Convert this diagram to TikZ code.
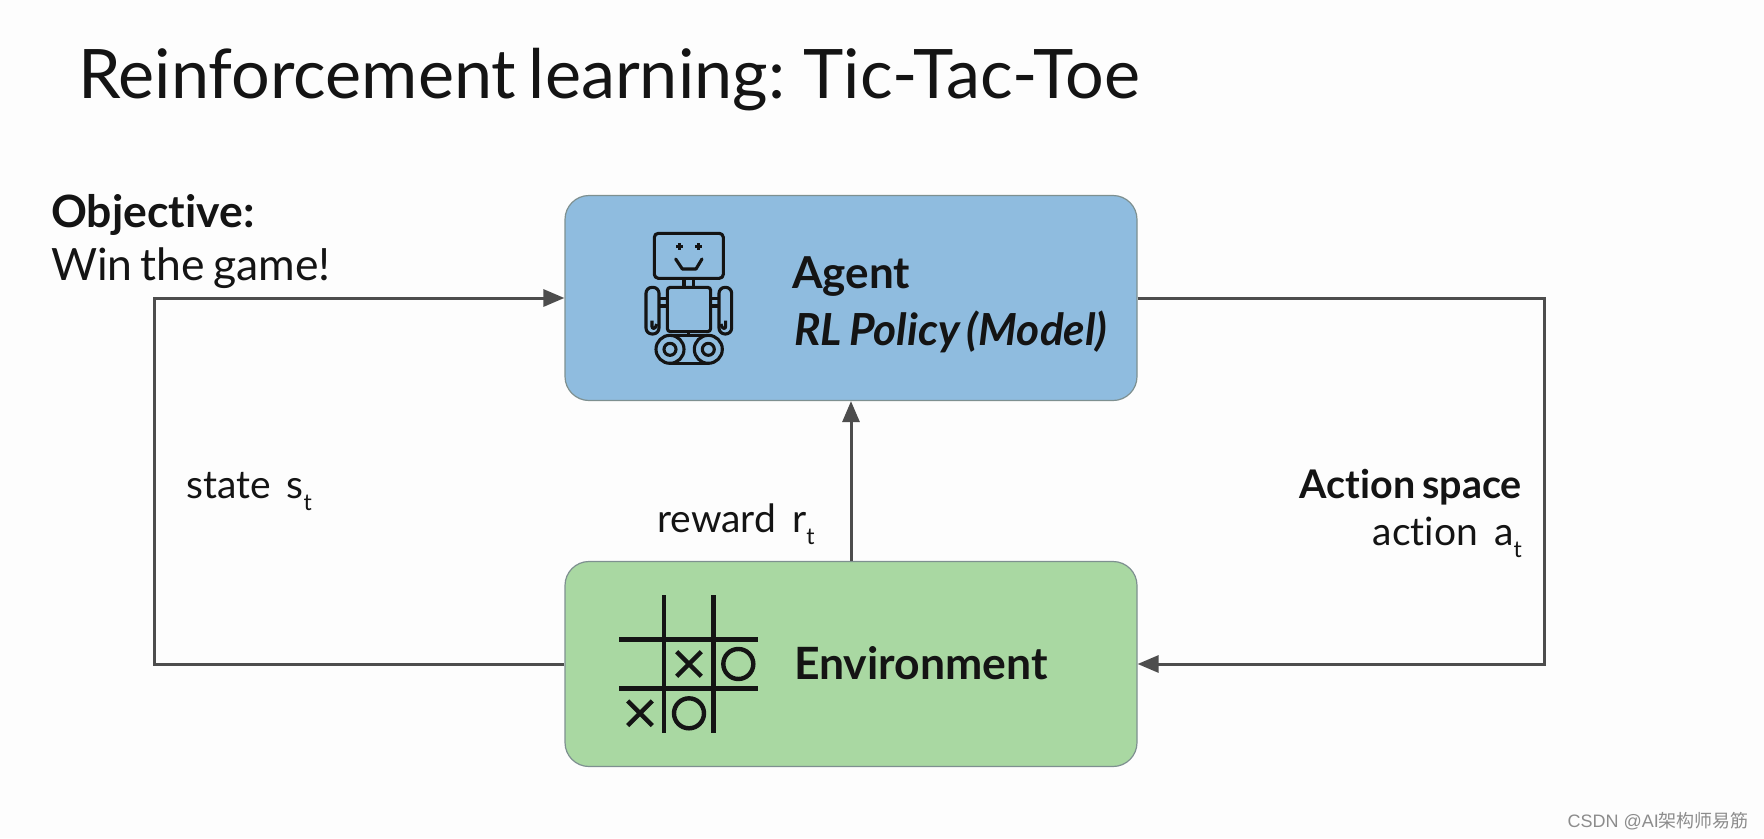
\documentclass[tikz,border=0pt]{standalone}
\usepackage{fontspec}
\setmainfont{Lato}[WordSpace=0.72,Ligatures=NoCommon]
\newfontfamily\wmfont{Liberation Sans}
\newfontfamily\cjk{Noto Sans CJK SC}
\usetikzlibrary{arrows.meta}
\definecolor{agentfill}{HTML}{8FBCDF}
\definecolor{envfill}{HTML}{A9D8A2}
\definecolor{edgegrey}{HTML}{7E9090}
\definecolor{linegrey}{HTML}{4D4D4D}
\definecolor{inkblack}{HTML}{141414}
\definecolor{paper}{HTML}{FDFDFD}
\newcommand{\subt}{\raisebox{-12pt}{\fontsize{23}{23}\selectfont t}}
\tikzset{
  box/.style={draw=edgegrey,line width=1.2pt,rounded corners=24pt,minimum width=572pt,minimum height=205pt,inner sep=0pt},
  flow/.style={draw=linegrey,line width=3pt,-{Triangle[length=21pt,width=17pt]}},
  txt/.style={anchor=base west,inner sep=0pt,text=inkblack},
  txtr/.style={anchor=base east,inner sep=0pt,text=inkblack},
  big/.style={font=\fontsize{44.5}{45}\selectfont},
  med/.style={font=\fontsize{39}{39}\selectfont},
  icon/.style={draw=inkblack,line width=3.1pt,line join=round},
  board/.style={draw=inkblack,line width=4.4pt},
}
\begin{document}
\begin{tikzpicture}[x=1pt,y=-1pt]
\useasboundingbox (0,0) rectangle (1764,838);
\fill[paper] (0,0) rectangle (1764,838);
\node[box,fill=agentfill] (agent) at (851,298) {};
\node[box,fill=envfill] (env) at (851,664) {};
\coordinate (lefttop) at (154,298);
\coordinate (leftbot) at (154,664);
\coordinate (righttop) at (1544,298);
\coordinate (rightbot) at (1544,664);
\draw[flow] (env.west) -- (leftbot) -- (lefttop) -- (agent.west);
\draw[flow] (agent.east) -- (righttop) -- (rightbot) -- (env.east);
\draw[flow] (env.north) -- (agent.south);
\node[txt,font=\fontsize{68.3}{69}\selectfont] (title) at (78,98) {Reinforcement learning: Tic-Tac-Toe};
\node[txt,font=\fontsize{44.5}{45}\selectfont\bfseries] (objective) at (51,227) {Objective:};
\node[txt,big] (win) at (51,280) {Win the game!};
\node[txt,font=\fontsize{44}{44}\selectfont\bfseries] (agentlabel) at (792,288) {Agent};
\node[txt,font=\fontsize{44.2}{45}\selectfont\bfseries\itshape] (policy) at (794,345) {RL Policy (Model)};
\node[txt,font=\fontsize{44.5}{45}\selectfont\bfseries] (envlabel) at (794,679) {Environment};
\node[txt,med] (state) at (186,498) {state\hspace{16pt}s\subt};
\node[txt,med] (reward) at (657,532) {reward\hspace{16pt}r\subt};
\node[txtr,font=\fontsize{39.5}{40}\selectfont\bfseries] (space) at (1522,498) {Action space};
\node[txtr,med] (action) at (1522,545) {action\hspace{16pt}a\subt};
\node[anchor=base east,inner sep=0pt,text=black!45,font=\fontsize{18}{18}\selectfont] (mark) at (1749,827) {\wmfont CSDN @AI\cjk 架构师易筋};
% robot
\begin{scope}[shift={(620,210)},x=0.3333pt,y=-0.3333pt,icon]
\draw[rounded corners=4pt] (103,70) rectangle (310,205);
\draw (168,110) -- (188,110) (178,100) -- (178,120);
\draw (225,110) -- (245,110) (235,100) -- (235,120);
\draw[line cap=round] (167,147) -- (187,177) -- (228,177) -- (246,147);
\draw (192,205) -- (192,232) (220,205) -- (220,232);
\draw[rounded corners=3pt] (142,232) rectangle (272,365);
\draw[rounded corners=6pt] (78,232) rectangle (117,372);
\draw[rounded corners=6pt] (297,232) rectangle (335,372);
\draw (117,265) -- (142,265) (117,288) -- (142,288);
\draw (272,265) -- (297,265) (272,288) -- (297,288);
\draw (96,332) -- (96,350) .. controls (96,358) and (108,358) .. (110,342);
\draw (317,332) -- (317,350) .. controls (317,358) and (305,358) .. (303,342);
\draw (205,365) -- (205,377);
\draw (150,418) circle[radius=14pt];
\draw (150,418) circle[radius=6pt];
\draw (265,418) circle[radius=14pt];
\draw (265,418) circle[radius=6pt];
\draw (150,376) -- (265,376) (150,460) -- (265,460);
\end{scope}
% board
\begin{scope}[shift={(600,580)},x=0.3333pt,y=-0.3333pt,board]
\draw (192,45) -- (192,458) (340,45) -- (340,458);
\draw (58,178) -- (473,178) (58,325) -- (473,325);
\draw (230,215) -- (304,289) (230,289) -- (304,215);
\draw (83,363) -- (157,437) (83,437) -- (157,363);
\draw (415,252) circle[radius=15pt];
\draw (267,400) circle[radius=15pt];
\end{scope}
\end{tikzpicture}
\end{document}
